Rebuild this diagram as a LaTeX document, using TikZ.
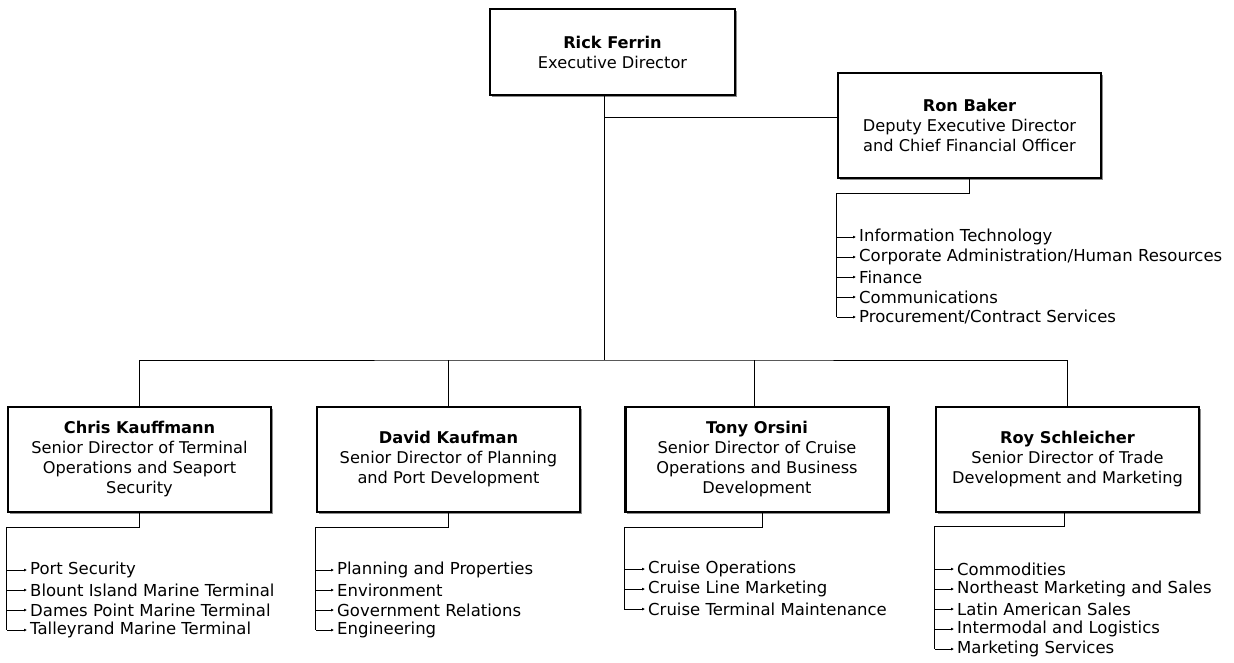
\documentclass[tikz,border=0pt]{standalone}
\usepackage{fontspec}
\setmainfont{DejaVu Sans}
\usetikzlibrary{calc}
\usetikzlibrary{arrows.meta}
\usetikzlibrary{shadows}

\begin{document}
\begin{tikzpicture}[x=1pt,y=-1pt]
  %--------------------------------------------
  % Área da figura (em pixels da imagem)
  %--------------------------------------------
  \useasboundingbox (0,0) rectangle (1234,662);

  %--------------------------------------------
  % Definição de tamanho dos blocos
  %--------------------------------------------
  \def\szh{105pt}   % altura de cada bloco
  \def\szw{263pt}   % largura de cada bloco

  %--------------------------------------------
  % Estilos
  %--------------------------------------------
  \tikzstyle{block} = [
    draw, fill=white, rectangle, line width=2.5pt,   % contorno grosso
    drop shadow={shadow xshift=1.6pt, shadow yshift=-1.6pt,
                 fill=black!45, opacity=1},
    minimum height=\szh, minimum width=\szw,         % tamanho mínimo
    align=center, font=\fontsize{16.2}{20}\selectfont
  ]
  \tikzstyle{wire} = [line width=1pt]
  \tikzstyle{leaf} = [line width=1pt, -{Latex[length=3pt,width=3pt]},
    shorten >=3pt]
  \tikzstyle{item} = [anchor=west, inner sep=0pt,
    font=\fontsize{16.5}{20}\selectfont]

  %--------------------------------------------
  % Diretoria
  %--------------------------------------------
  \node[block, minimum width=245pt, minimum height=86pt]
    (rick) at (612.5,52) {\textbf{Rick Ferrin}\\Executive Director};
  \node[block] (ron) at (969.5,125.5)
    {\textbf{Ron Baker}\\Deputy Executive Director\\and Chief Financial Officer};

  \node[block] (chris) at (139.5,459.5)
    {\textbf{Chris Kauffmann}\\Senior Director of Terminal\\Operations and Seaport\\Security};
  \node[block] (david) at (448.5,459.5)
    {\textbf{David Kaufman}\\Senior Director of Planning\\and Port Development};
  \node[block] (tony) at (757,459.5)
    {\textbf{Tony Orsini}\\Senior Director of Cruise\\Operations and Business\\Development};
  \node[block] (roy) at (1067.5,459.5)
    {\textbf{Roy Schleicher}\\Senior Director of Trade\\Development and Marketing};

  %--------------------------------------------
  % Ligações principais
  %--------------------------------------------
  \coordinate (trunk) at ([xshift=-8pt]rick.south);
  \coordinate (bus) at (trunk |- 0,360);
  \draw[wire] (trunk) -- (bus);
  \draw[wire] (trunk |- 0,117) -- ([yshift=8.5pt]ron.west);
  \draw[wire] (chris.north) |- (bus) -| (roy.north);
  \draw[wire] (david.north) -- (david.north |- bus);
  \draw[wire] ([xshift=-3pt]tony.north) -- ([xshift=-3pt]tony.north |- bus);

  %--------------------------------------------
  % Listas de setores sob cada diretor
  %--------------------------------------------
  \coordinate (ronL) at (ron.west |- 0,193);
  \foreach [count=\i] \txt in {Information Technology,
    Corporate Administration/Human Resources, Finance,
    Communications, Procurement/Contract Services}
  {
    \node[item] (ron-\i) at (859,{217+20*\i}) {\txt};
    \draw[leaf] (ronL |- ron-\i.west) -- (ron-\i.west);
  }
  \draw[wire] (ron.south) |- (ronL) -- (ronL |- ron-5.west);

  \coordinate (chrisL) at (chris.west |- 0,527);
  \foreach [count=\i] \txt in {Port Security, Blount Island Marine Terminal,
    Dames Point Marine Terminal, Talleyrand Marine Terminal}
  {
    \node[item] (chris-\i) at (30,{550+20*\i}) {\txt};
    \draw[leaf] (chrisL |- chris-\i.west) -- (chris-\i.west);
  }
  \draw[wire] (chris.south) |- (chrisL) -- (chrisL |- chris-4.west);

  \coordinate (davidL) at (david.west |- 0,527);
  \foreach [count=\i] \txt in {Planning and Properties, Environment,
    Government Relations, Engineering}
  {
    \node[item] (david-\i) at (337,{550+20*\i}) {\txt};
    \draw[leaf] (davidL |- david-\i.west) -- (david-\i.west);
  }
  \draw[wire] (david.south) |- (davidL) -- (davidL |- david-4.west);

  \coordinate (tonyL) at (tony.west |- 0,527);
  \foreach [count=\i] \txt in {Cruise Operations, Cruise Line Marketing,
    Cruise Terminal Maintenance}
  {
    \node[item] (tony-\i) at (648,{549+20*\i}) {\txt};
    \draw[leaf] (tonyL |- tony-\i.west) -- (tony-\i.west);
  }
  \draw[wire] ([xshift=5pt]tony.south) |- (tonyL) -- (tonyL |- tony-3.west);

  \coordinate (royL) at (roy.west |- 0,526);
  \foreach [count=\i] \txt in {Commodities, Northeast Marketing and Sales,
    Latin American Sales, Intermodal and Logistics, Marketing Services}
  {
    \node[item] (roy-\i) at (957,{549+20*\i}) {\txt};
    \draw[leaf] (royL |- roy-\i.west) -- (roy-\i.west);
  }
  \draw[wire] ([xshift=-3pt]roy.south) |- (royL) -- (royL |- roy-5.west);
\end{tikzpicture}
\end{document}
